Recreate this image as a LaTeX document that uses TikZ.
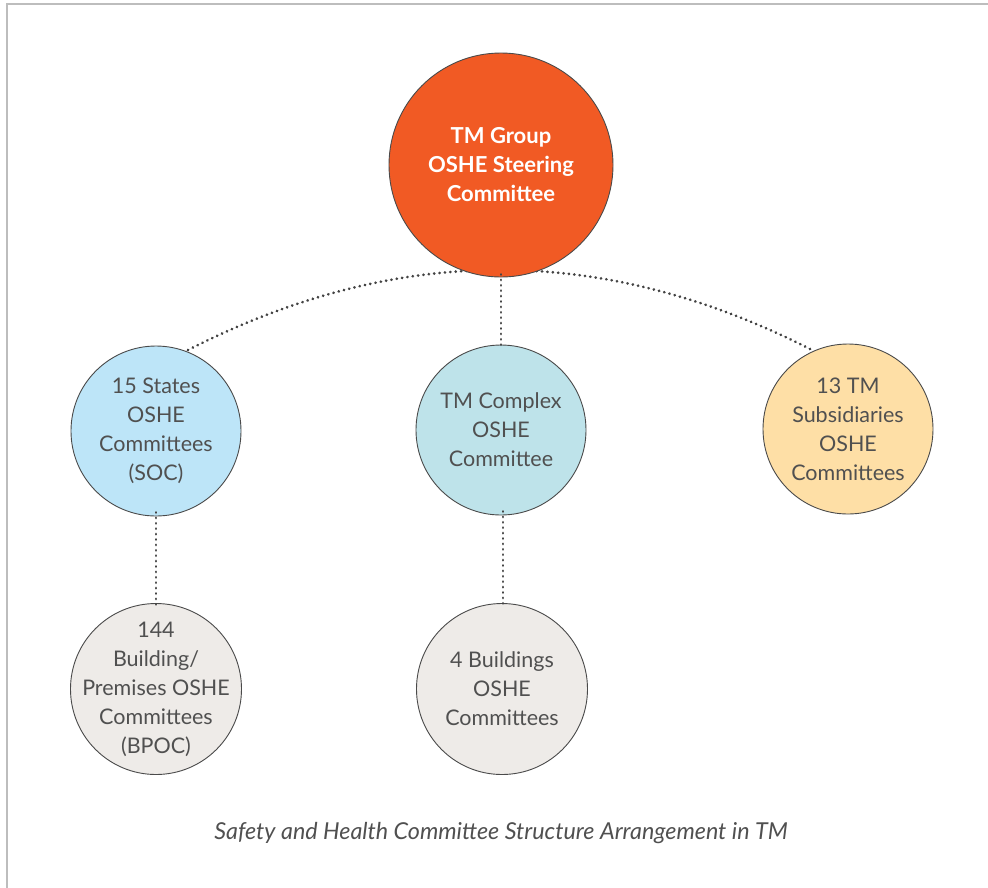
\documentclass[tikz,border=0pt]{standalone}
\usepackage{fontspec}
\setmainfont{Lato}
\definecolor{topor}{HTML}{F15A24}
\definecolor{lblue}{HTML}{BDE5F8}
\definecolor{lteal}{HTML}{BEE3EA}
\definecolor{lpeach}{HTML}{FEDFA6}
\definecolor{lgrey}{HTML}{EEEBE8}
\definecolor{txt}{HTML}{505050}
\definecolor{edge}{HTML}{4A4A4A}
\definecolor{frame}{HTML}{BDBDBD}
\begin{document}
\begin{tikzpicture}[x=1pt,y=-1pt,
  bubble/.style={circle,draw=edge,line width=0.9pt,minimum size=170pt,inner sep=0pt},
  btext/.style={align=center,text=txt,font=\fontsize{21.5}{29}\selectfont},
  dotline/.style={draw=edge!90!black,line width=2.9pt,line cap=round,dash pattern=on 0.1pt off 5.3pt}]
\useasboundingbox (0,0) rectangle (988,887);
\fill[white] (0,0) rectangle (988,887);
\draw[frame,line width=2pt] (7,890) -- (7,4) -- (992,4);
% connectors behind
\coordinate (al) at (188,350);
\coordinate (ar) at (812,350);
\coordinate (c1) at (396.7,243.3);
\coordinate (c2) at (603.3,243.3);
\draw[dotline] (al) .. controls (c1) and (c2) .. (ar);
\node[bubble,fill=topor,minimum size=224pt] (top) at (501,165) {};
\node[btext,text=white,font=\bfseries\fontsize{22}{29}\selectfont] (toptext) at (top.center) {TM Group\\OSHE Steering\\Committee};
\node[bubble,fill=lblue] (soc) at (156,431) {};
\node[btext] (soctext) at (soc.center) {15 States\\OSHE\\Committees\\(SOC)};
\node[bubble,fill=lteal] (cx) at (501,430) {};
\node[btext] (cxtext) at (cx.center) {TM Complex\\OSHE\\Committee};
\node[bubble,fill=lpeach] (sub) at (848,429) {};
\node[btext] (subtext) at (sub.center) {13 TM\\Subsidiaries\\OSHE\\Committees};
\node[bubble,fill=lgrey,minimum size=171pt] (bpoc) at (156,689) {};
\node[btext] (bpoctext) at (bpoc.center) {144\\Building/\\Premises OSHE\\Committees\\(BPOC)};
\node[bubble,fill=lgrey,minimum size=171pt] (bld) at (502,689) {};
\node[btext] (bldtext) at (bld.center) {4 Buildings\\OSHE\\Committees};
\draw[dotline] ([yshift=3pt]top.south) -- ([yshift=-3pt]cx.north);
\draw[dotline] ([yshift=4pt]soc.south) -- ([yshift=-4pt]bpoc.north);
\draw[dotline] ([xshift=2pt,yshift=4pt]cx.south) -- ([xshift=1pt,yshift=-4pt]bld.north);
\node[text=txt,font=\itshape\fontsize{23.3}{26}\selectfont] (cap) at (501,833) {Safety and Health Committee Structure Arrangement in TM};
\end{tikzpicture}
\end{document}
